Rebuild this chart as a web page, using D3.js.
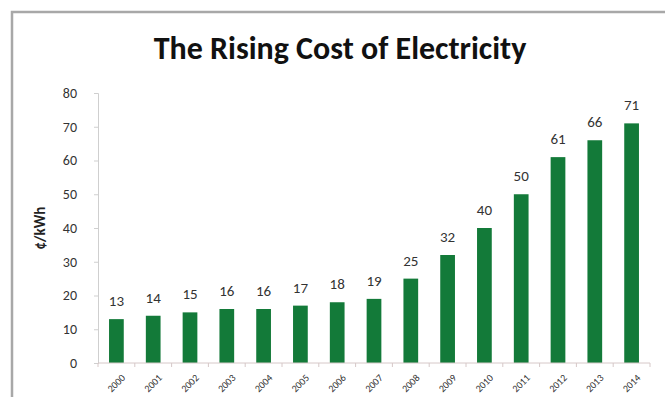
<!DOCTYPE html>
<html>
<head>
<meta charset="utf-8" />
<title>The Rising Cost of Electricity</title>
<style>
  body { margin: 0; background: #fff; }
  text { font-family: Carlito, "Open Sans", "Liberation Sans", sans-serif; }
</style>
</head>
<body>
<script src="https://d3js.org/d3.v7.min.js"></script>
<script>

var years = ["2000","2001","2002","2003","2004","2005","2006","2007","2008","2009","2010","2011","2012","2013","2014"];
var cost = [13,14,15,16,16,17,18,19,25,32,40,50,61,66,71];
var yTicks = [0,10,20,30,40,50,60,70,80];

var width = 665, height = 397;
var margin = {left: 98, right: 15, top: 93, bottom: 34};

var svg = d3.select("body").append("svg")
            .attr("width", width)
            .attr("height", height);

// outer frame, cut off at right and bottom
svg.append("path")
   .attr("d", "M12," + height + "V12H" + width)
   .attr("fill", "none")
   .attr("stroke", "#a8a8a8")
   .attr("stroke-width", 2.5);

var x = d3.scaleBand()
          .domain(years)
          .range([margin.left, width - margin.right])
          .paddingInner(0.6)
          .paddingOuter(0.3);

var y = d3.scaleLinear()
          .domain([0, 80])
          .range([height - margin.bottom, margin.top]);

// title
svg.append("text")
   .attr("x", 340)
   .attr("y", 59)
   .attr("text-anchor", "middle")
   .style("font-size", "32px")
   .style("font-weight", "bold")
   .attr("fill", "#111")
   .text("The Rising Cost of Electricity");

// y axis
var yAxis = svg.append("g")
   .attr("transform", "translate(" + margin.left + ",0)")
   .call(d3.axisLeft(y).tickValues(yTicks).tickSize(4).tickPadding(17));
yAxis.select(".domain").attr("stroke", "#cfcfcf");
yAxis.selectAll(".tick line").attr("stroke", "#cfcfcf");
yAxis.selectAll("text").attr("fill", "#333").style("font-size", "14px");

svg.append("text")
   .attr("transform", "translate(45," + y(40) + ") rotate(-90)")
   .attr("text-anchor", "middle")
   .style("font-size", "15px")
   .style("font-weight", "bold")
   .attr("fill", "#222")
   .text("¢/kWh");

// bars
svg.append("g")
   .attr("fill", "#137a39")
   .selectAll("rect")
   .data(cost)
   .enter()
   .append("rect")
   .attr("x", (d, i) => x(years[i]))
   .attr("width", x.bandwidth())
   .attr("y", d => y(d))
   .attr("height", d => y(0) - y(d));

// value labels
svg.append("g")
   .selectAll("text")
   .data(cost)
   .enter()
   .append("text")
   .attr("x", (d, i) => x(years[i]) + x.bandwidth() / 2)
   .attr("y", d => y(d) - 13)
   .attr("text-anchor", "middle")
   .style("font-size", "15px")
   .attr("fill", "#333")
   .text(d => d);

// x axis with ticks between categories
var xg = svg.append("g")
   .attr("transform", "translate(0," + y(0) + ")");
xg.append("line")
  .attr("x1", margin.left).attr("x2", width - margin.right)
  .attr("stroke", "#d6c8c8");
var step = (width - margin.left - margin.right) / years.length;
xg.selectAll(".sep")
  .data(d3.range(years.length + 1))
  .enter()
  .append("line")
  .attr("x1", i => margin.left + i * step)
  .attr("x2", i => margin.left + i * step)
  .attr("y1", 0).attr("y2", 4)
  .attr("stroke", "#d6c8c8");
xg.selectAll(".lbl")
  .data(years)
  .enter()
  .append("text")
  .attr("transform", d => "translate(" + (x(d) + x.bandwidth() / 2 + 7) + ",13) rotate(-45)")
  .attr("text-anchor", "end")
  .attr("dy", "0.35em")
  .style("font-size", "10px")
  .attr("fill", "#333")
  .text(d => d);

</script>
</body>
</html>
